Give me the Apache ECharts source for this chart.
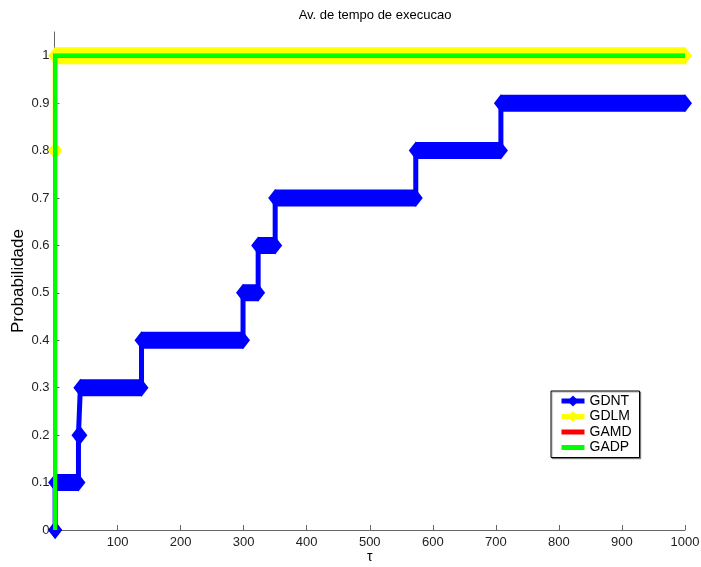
<!DOCTYPE html>
<html>
<head>
<meta charset="utf-8">
<script src="https://cdn.jsdelivr.net/npm/echarts@6/dist/echarts.min.js"></script>
<style>html,body{margin:0;padding:0;background:#fff}#c{width:701px;height:567px}</style>
</head>
<body>
<div id="c"></div>
<script>
// ---- data ----
const xTicks = [100, 200, 300, 400, 500, 600, 700, 800, 900, 1000];
const yTicks = [0, 0.1, 0.2, 0.3, 0.4, 0.5, 0.6, 0.7, 0.8, 0.9, 1];

// GDNT: each level is held from start tau to end tau
const gdntLevels = [0, 0.1, 0.2, 0.3, 0.4, 0.5, 0.6, 0.7, 0.8, 0.9];
const gdntStart  = [1, 1, 38, 41, 138, 299, 323, 350, 573, 708];
const gdntEnd    = [1, 38, 41, 138, 299, 323, 350, 573, 708, 1000];

const gdlmLevels = [0.8, 1];
const gdlmStart  = [1, 1];
const gdlmEnd    = [1, 1000];

const gamdLevels = [0, 1];
const gamdStart  = [1, 1];
const gamdEnd    = [1, 1000];

const gadpLevels = [0, 1];
const gadpStart  = [1, 1];
const gadpEnd    = [1, 1000];

// ---- helpers ----
function stairs(levels, starts, ends) {
  const out = [];
  for (let i = 0; i < levels.length; i++) {
    out.push([starts[i], levels[i]]);
    out.push([ends[i], levels[i]]);
  }
  return out;
}
function bands(levels, starts, ends) {
  const out = [];
  for (let i = 0; i < levels.length; i++) {
    out.push([starts[i], levels[i]]);
    out.push([ends[i], levels[i]]);
    out.push(['-', '-']);
  }
  return out;
}

const FONT = 'Liberation Sans, Arial, Helvetica, sans-serif';
const BLUE = '#0000ff', YELLOW = '#ffff00', RED = '#ff0000', GREEN = '#00ff00';

function bandSeries(name, color, levels, starts, ends, z) {
  return {
    name: name, type: 'line', data: bands(levels, starts, ends),
    symbol: 'diamond', symbolSize: [14, 18], showAllSymbol: true,
    connectNulls: false, clip: false, z: z,
    itemStyle: { color: color },
    lineStyle: { color: color, width: 17, cap: 'butt' },
    emphasis: { disabled: true }, silent: true
  };
}
function stepSeries(name, color, levels, starts, ends, width, z) {
  return {
    name: name, type: 'line', data: stairs(levels, starts, ends),
    symbol: 'none', clip: false, z: z,
    itemStyle: { color: color },
    lineStyle: { color: color, width: width, cap: 'butt', join: 'miter' },
    emphasis: { disabled: true }, silent: true
  };
}

const chart = echarts.init(document.getElementById('c'), null, { renderer: 'canvas' });
chart.setOption({
  animation: false,
  backgroundColor: '#fff',
  title: {
    text: 'Av. de tempo de execucao',
    left: 370, top: 4, textAlign: 'center',
    textStyle: { fontFamily: FONT, fontSize: 13, fontWeight: 'normal', color: '#000' }
  },
  grid: { left: 54.5, right: 16, top: 32, bottom: 37, containLabel: false, outerBoundsMode: 'none' },
  xAxis: {
    type: 'value', min: 0, max: 1000,
    name: 'τ', nameLocation: 'middle', nameGap: 20, nameMoveOverlap: false,
    nameTextStyle: { fontFamily: FONT, fontSize: 14, color: '#000' },
    axisLine: { show: true, lineStyle: { color: '#666', width: 1 } },
    axisTick: { show: true, inside: true, length: 5, customValues: xTicks, lineStyle: { color: '#666' } },
    axisLabel: { customValues: xTicks, margin: 6, fontFamily: FONT, fontSize: 13, color: '#222',
                 formatter: function (v) { return String(v); } },
    splitLine: { show: false }
  },
  yAxis: {
    type: 'value', min: 0, max: 1.05,
    name: 'Probabilidade', nameLocation: 'middle', nameGap: 28, nameMoveOverlap: false,
    nameTextStyle: { fontFamily: FONT, fontSize: 17, color: '#000' },
    axisLine: { show: true, lineStyle: { color: '#666', width: 1 } },
    axisTick: { show: true, inside: true, length: 5, customValues: yTicks, lineStyle: { color: '#666' } },
    axisLabel: { customValues: yTicks, margin: 5, fontFamily: FONT, fontSize: 13, color: '#222' },
    splitLine: { show: false }
  },
  legend: {
    orient: 'vertical', left: 551, top: 391,
    selectedMode: false,
    itemWidth: 23, itemHeight: 14, itemGap: 1.5,
    padding: [3, 8, 3, 8],
    borderColor: '#000', borderWidth: 1, backgroundColor: '#fff',
    shadowColor: 'rgba(0,0,0,0.35)', shadowOffsetX: 1, shadowOffsetY: 1, shadowBlur: 1,
    textStyle: { fontFamily: FONT, fontSize: 14, color: '#000' },
    data: [
      { name: 'GDNT', lineStyle: { width: 5 } },
      { name: 'GDLM', lineStyle: { width: 5 } },
      { name: 'GAMD', lineStyle: { width: 5 }, itemStyle: { opacity: 0 } },
      { name: 'GADP', lineStyle: { width: 5 }, itemStyle: { opacity: 0 } }
    ]
  },
  series: [
    bandSeries('GDNT', BLUE, gdntLevels, gdntStart, gdntEnd, 2),
    stepSeries('GDNT step', BLUE, gdntLevels, gdntStart, gdntEnd, 5, 2),
    bandSeries('GDLM', YELLOW, gdlmLevels, gdlmStart, gdlmEnd, 3),
    stepSeries('GDLM step', YELLOW, gdlmLevels, gdlmStart, gdlmEnd, 5, 3),
    stepSeries('GAMD', RED, gamdLevels, gamdStart, gamdEnd, 4, 4),
    stepSeries('GADP', GREEN, gadpLevels, gadpStart, gadpEnd, 4, 5)
  ]
});
</script>
</body>
</html>
